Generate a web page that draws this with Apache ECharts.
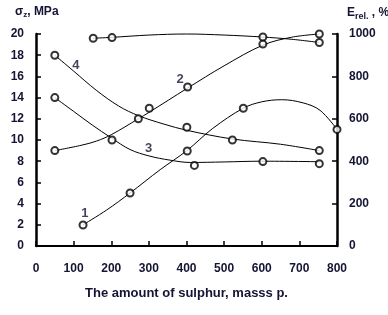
<!DOCTYPE html>
<html><head><meta charset="utf-8">
<script src="https://cdn.jsdelivr.net/npm/echarts@6/dist/echarts.min.js"></script>
<style>html,body{margin:0;padding:0;background:#fff}#c{width:388px;height:315px}</style>
</head><body><div id="c"></div>
<script>
// x axis (sulphur amount)
const xMin = 0, xMax = 800, xStep = 100;
// left axis sigma_z, MPa ; right axis E_rel, %
const yLeftMax = 20, yLeftStep = 2;
const yRightMax = 1000, yRightStep = 200;

// Curve 1 (E_rel, right axis)
const c1LineX = [125, 188, 250, 330, 401, 470, 551, 600, 653, 710, 755, 800];
const c1LineY = [100, 170, 250, 360, 450, 555, 650, 680, 690, 675, 640, 550];
const c1PtX = [125, 250, 402, 551, 800];
const c1PtY = [99, 250, 448, 650, 550];

// Curve 2 (sigma, left axis)
const c2LineX = [50, 120, 161, 200, 272, 300, 403, 500, 603, 680, 753];
const c2LineY = [9, 9.5, 9.9, 10.5, 12, 12.6, 14.9, 17.0, 18.95, 19.7, 20];
const c2PtX = [50, 272, 301, 403, 603, 753];
const c2PtY = [9, 12, 13, 15, 19.05, 20];

// Curve 3 (sigma, left axis)
const c3LineX = [50, 100, 150, 200, 250, 300, 356, 410, 500, 600, 755];
const c3LineY = [14, 12.7, 11.4, 10.2, 9.1, 8.5, 8.1, 7.88, 7.93, 8.0, 7.95];
const c3PtX = [50, 202, 421, 603, 753];
const c3PtY = [14, 10, 7.6, 7.96, 7.77];

// Curve 4 (sigma, left axis)
const c4LineX = [50, 100, 160, 220, 272, 340, 403, 521, 650, 753];
const c4LineY = [18, 16.5, 14.7, 13.2, 12.3, 11.5, 10.9, 10.1, 9.6, 9.0];
const c4PtX = [50, 401, 522, 753];
const c4PtY = [18, 11.2, 10, 9];

// Curve 5 (E_rel, right axis)
const c5LineX = [152, 200, 300, 400, 500, 600, 680, 753];
const c5LineY = [980, 984, 995, 1000, 995, 986, 975, 960];
const c5PtX = [152, 202, 603, 753];
const c5PtY = [980, 983, 986, 960];

// curve number labels (left-axis units)
const curveNames = ['1', '2', '3', '4', '5'];
const curveLabelX = [130, 383, 299, 106, 275];
const curveLabelY = [3.1, 15.7, 9.2, 17.0, 20.9];

const FONT = 'Liberation Sans';
const TXT = '#141433';
const zip = (a, b) => a.map((v, i) => [v, b[i]]);

function lineSeries(x, y, axis) {
  return { type: 'line', yAxisIndex: axis, data: zip(x, y), smooth: 0.35, showSymbol: false,
    lineStyle: { color: '#000', width: 1 }, clip: false, silent: true, z: 2 };
}
function ptSeries(x, y, axis) {
  return { type: 'scatter', yAxisIndex: axis, data: zip(x, y), symbol: 'circle', symbolSize: 7,
    itemStyle: { color: '#fff', borderColor: '#000', borderWidth: 2 }, clip: false, silent: true, z: 3 };
}

const chart = echarts.init(document.getElementById('c'), null, { renderer: 'canvas' });
const axisLabel = { fontFamily: FONT, fontWeight: 'bold', fontSize: 12, color: TXT, formatter: v => String(v) };
chart.setOption({
  animation: false,
  backgroundColor: '#fff',
  grid: { left: 36, right: 51, top: 34, bottom: 69, containLabel: false },
  xAxis: { type: 'value', min: xMin, max: xMax, interval: xStep,
    axisLine: { show: true, lineStyle: { color: '#000', width: 2 } },
    axisTick: { show: true, inside: true, length: 5, lineStyle: { color: '#000', width: 1.5 } },
    splitLine: { show: false },
    axisLabel: Object.assign({}, axisLabel, { margin: 17 }),
    name: 'The amount of sulphur, masss p.', nameLocation: 'middle', nameGap: 41,
    nameTextStyle: { fontFamily: FONT, fontWeight: 'bold', fontSize: 13, color: TXT } },
  yAxis: [
    { type: 'value', min: 0, max: yLeftMax, interval: yLeftStep, position: 'left',
      axisLine: { show: true, lineStyle: { color: '#000', width: 2.5 } },
      axisTick: { show: true, inside: true, length: 5, lineStyle: { color: '#000', width: 1.5 } },
      splitLine: { show: false },
      axisLabel: Object.assign({}, axisLabel, { margin: 12 }) },
    { type: 'value', min: 0, max: yRightMax, interval: yRightStep, position: 'right',
      axisLine: { show: true, lineStyle: { color: '#000', width: 2.5 } },
      axisTick: { show: true, inside: true, length: 5, lineStyle: { color: '#000', width: 1.5 } },
      splitLine: { show: false },
      axisLabel: Object.assign({}, axisLabel, { margin: 12 }) }
  ],
  graphic: [
    { type: 'text', left: 15, top: 6, style: { rich: {
        a: { fontFamily: FONT, fontWeight: 'bold', fontSize: 12, fill: TXT },
        s: { fontFamily: FONT, fontWeight: 'bold', fontSize: 8, fill: TXT, padding: [6, 0, 0, 0] } },
      text: '{a|σ}{s|z}{a|, MPa}' } },
    { type: 'text', left: 347, top: 7, style: { rich: {
        a: { fontFamily: FONT, fontWeight: 'bold', fontSize: 12, fill: TXT },
        s: { fontFamily: FONT, fontWeight: 'bold', fontSize: 9, fill: TXT, padding: [7, 0, 0, 0] } },
      text: '{a|E}{s|rel.}{a| , %}' } }
  ],
  series: [
    lineSeries(c1LineX, c1LineY, 1), ptSeries(c1PtX, c1PtY, 1),
    lineSeries(c2LineX, c2LineY, 0), ptSeries(c2PtX, c2PtY, 0),
    lineSeries(c3LineX, c3LineY, 0), ptSeries(c3PtX, c3PtY, 0),
    lineSeries(c4LineX, c4LineY, 0), ptSeries(c4PtX, c4PtY, 0),
    lineSeries(c5LineX, c5LineY, 1), ptSeries(c5PtX, c5PtY, 1),
    { type: 'scatter', yAxisIndex: 0, symbolSize: 0, silent: true, z: 4,
      data: curveNames.map((n, i) => ({ name: n, value: [curveLabelX[i], curveLabelY[i]] })),
      label: { show: true, position: 'inside', formatter: p => p.name,
        fontFamily: FONT, fontWeight: 'bold', fontSize: 13, color: TXT } }
  ]
});
</script></body></html>
